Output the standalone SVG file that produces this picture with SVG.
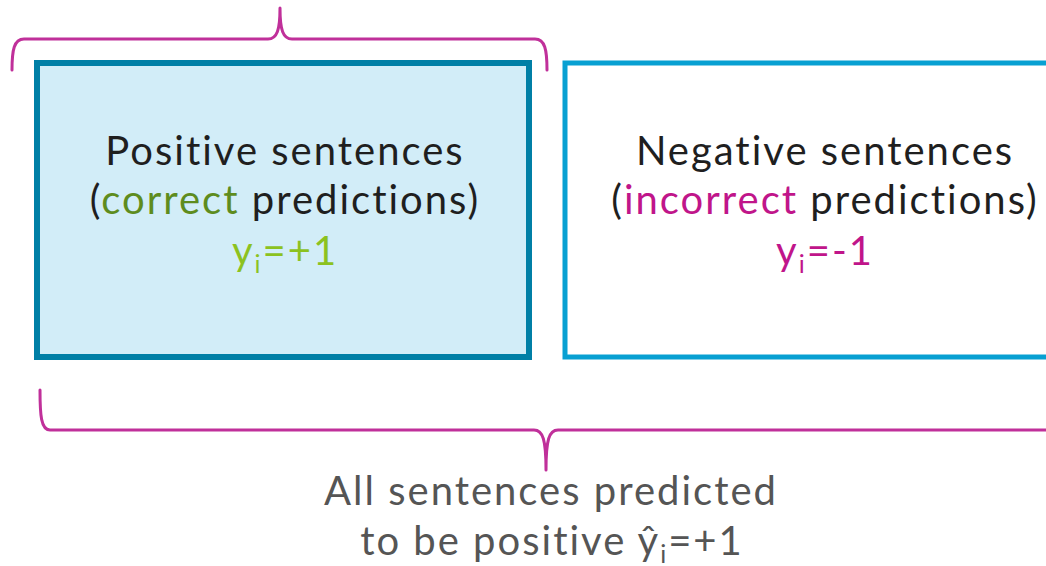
<svg xmlns="http://www.w3.org/2000/svg" width="1046" height="566" viewBox="0 0 1046 566">
<style>
text{font-family:Lato,"Open Sans","Liberation Sans",sans-serif;font-size:40px;letter-spacing:2px;text-anchor:middle;fill:#1f1f1f;font-variant-ligatures:none}
.brace{fill:none;stroke:#c0309a;stroke-width:3;stroke-linecap:round;stroke-linejoin:round}
.sub{font-size:25px}
.pos{fill:#8cc21f}
.cor{fill:#5e8c1e}
.neg{fill:#c0158a}
.gray{fill:#555555}
</style>
<rect width="1046" height="566" fill="#ffffff"/>
<g id="braces">
<path class="brace" d="M12,70 C12,50 14,39 24,39 L268,39 C277,39 280,30 280,8 C280,30 283,39 292,39 L535,39 C545,39 547,50 547,70"/>
<path class="brace" d="M40,390 C40,415 41,430 50,430 L534,430 C543,430 546,440 546,470 C546,440 549,430 558,430 L1046,430"/>
</g>
<g id="positive">
<rect x="37" y="63" width="492" height="294" fill="#d2edf8" stroke="#007fa6" stroke-width="6"/>
<text x="285" y="165">Positive sentences</text>
<text x="285" y="214">(<tspan class="cor">correct</tspan> predictions)</text>
<text x="285" y="265" class="pos">y<tspan class="sub" dy="8">i</tspan><tspan dy="-8">=+1</tspan></text>
</g>
<g id="negative">
<rect x="565" y="63" width="500" height="294" fill="#ffffff" stroke="#08a0d2" stroke-width="5"/>
<text x="825" y="165">Negative sentences</text>
<text x="825" y="214">(<tspan class="neg">incorrect</tspan> predictions)</text>
<text x="825" y="265" class="neg">y<tspan class="sub" dy="8">i</tspan><tspan dy="-8">=-1</tspan></text>
</g>
<g id="label">
<text x="551" y="505" class="gray">All sentences predicted</text>
<text x="552" y="555" class="gray">to be positive ŷ<tspan class="sub" dy="8">i</tspan><tspan dy="-8">=+1</tspan></text>
</g>
</svg>
